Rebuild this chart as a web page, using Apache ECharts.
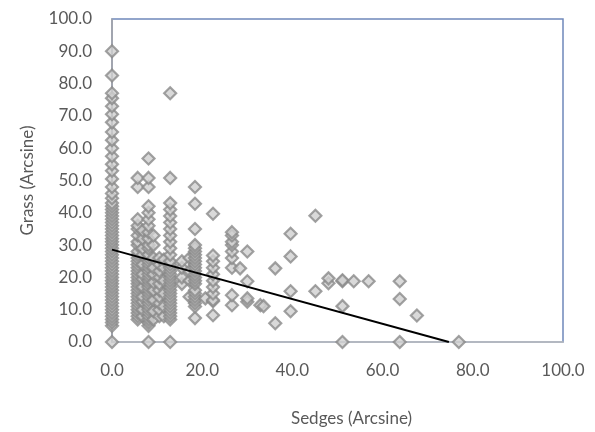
<!DOCTYPE html>
<html>
<head>
<meta charset="utf-8">
<script src="https://cdn.jsdelivr.net/npm/echarts@6/dist/echarts.min.js"></script>
<style>
  html, body { margin: 0; padding: 0; background: #fff; }
  #main { width: 595px; height: 432px; }
</style>
</head>
<body>
<div id="main"></div>
<script>
// Sedges (Arcsine) value of each column of points
var sedgeCols = [0, 5.7, 6.8, 8.1, 9.2, 10.5, 11.5, 12.9, 15.5, 17.2, 18.4, 20.7, 22.4, 26.6, 28.4, 30, 32.9, 33.6, 36.2, 39.6, 45.1, 48, 51.1, 53.6, 56.9, 63.8, 67.6, 76.9];
// Grass (Arcsine) values in each column
var grassCols = [
  [0, 5, 6, 7, 8, 9, 10, 11, 12, 13, 14, 15, 16, 17, 18, 19, 20, 21, 22, 23, 24, 25, 26, 27, 28, 29, 30, 31, 32, 33, 34, 35, 36, 37, 38, 39, 40, 41, 42, 43, 44.5, 46, 48, 50.5, 53, 55, 57.5, 60, 62.5, 65, 68, 70.5, 73, 75.5, 77, 82.5, 90],
  [7, 8, 9, 10, 11, 12, 13, 14, 15, 16, 17, 18, 19, 20, 21, 22, 23, 24, 25, 26, 27, 28, 30, 31, 33, 35, 36, 38, 48, 50.8],
  [8, 10, 12.5, 14, 17, 19.5, 21, 24, 27, 29, 32, 34.5],
  [0, 5, 6, 7, 8, 9, 10, 11, 12, 13, 14, 15, 16, 17, 18, 19, 20, 21, 22, 23, 24, 25, 26, 27, 29, 30, 32, 34, 36, 38, 40, 42, 48, 50.8, 56.8],
  [7, 9.5, 13, 16, 18.5, 21, 23, 26, 30, 33],
  [8, 10, 12, 14, 16, 18, 20, 22, 24, 26],
  [8, 11, 15, 19, 23, 25.5],
  [0, 7, 8, 9, 10, 11, 12, 13, 14, 15, 16, 17, 18, 19, 20, 21, 22, 23, 24, 25, 27, 29, 31, 33, 35, 37, 39, 41, 43, 50.8, 77],
  [18, 20, 23, 25],
  [14, 19, 22, 26],
  [7.4, 11, 12, 13, 14, 15, 16, 18, 19, 20, 21, 22, 23, 24, 25, 26, 27, 28, 29, 30, 35, 42.8, 48],
  [13.5],
  [8.3, 12.6, 13, 15, 17, 19, 21, 23, 25, 26.8, 39.7],
  [11.4, 14.5, 23, 26, 28, 30, 31, 33, 34],
  [22.8],
  [12.5, 13.5, 18.8, 28],
  [11.4],
  [11.1],
  [5.8, 22.8],
  [9.5, 15.7, 26.5, 33.5],
  [15.7, 39.1],
  [18.2, 19.7],
  [0, 11.1, 18.8, 19.1],
  [18.8],
  [18.8],
  [0, 13.3, 18.8],
  [8.2],
  [0]
];
// linear trend line end points
var trendX = [0, 74.7];
var trendY = [28.6, 0];

var points = [];
for (var i = 0; i < sedgeCols.length; i++) {
  for (var j = 0; j < grassCols[i].length; j++) {
    points.push([sedgeCols[i], grassCols[i][j]]);
  }
}

var myChart = echarts.init(document.getElementById('main'));

var labelStyle = { color: '#595959', fontSize: 17, fontFamily: 'Lato' };

var option = {
  animation: false,
  backgroundColor: '#fff',
  grid: {
    left: 112, right: 32, top: 19, bottom: 88,
    show: true,
    borderColor: '#6f88bb',
    borderWidth: 1.5
  },
  xAxis: {
    type: 'value',
    min: 0, max: 100, interval: 20,
    name: 'Sedges (Arcsine)',
    nameLocation: 'middle',
    nameGap: 68,
    nameTextStyle: { color: '#595959', fontSize: 17, fontFamily: 'Lato', padding: [0, 0, 0, 28] },
    axisLine: { show: true, lineStyle: { color: '#bfbfbf', width: 1.5 } },
    axisTick: { show: false },
    splitLine: { show: false },
    axisLabel: Object.assign({ margin: 20, formatter: function (v) { return v.toFixed(1); } }, labelStyle)
  },
  yAxis: {
    type: 'value',
    min: 0, max: 100, interval: 10,
    name: 'Grass (Arcsine)',
    nameLocation: 'middle',
    nameGap: 76,
    nameTextStyle: { color: '#595959', fontSize: 17, fontFamily: 'Lato' },
    axisLine: { show: true, lineStyle: { color: '#a6a6a6', width: 1.5 } },
    axisTick: { show: false },
    splitLine: { show: false },
    axisLabel: Object.assign({ margin: 20, formatter: function (v) { return v.toFixed(1); } }, labelStyle)
  },
  series: [
    {
      type: 'scatter',
      symbol: 'diamond',
      symbolSize: 12,
      data: points,
      itemStyle: { color: '#cfcfcf', borderColor: '#8a8a8a', borderWidth: 2.2 }
    },
    {
      type: 'line',
      data: [[trendX[0], trendY[0]], [trendX[1], trendY[1]]],
      symbol: 'none',
      lineStyle: { color: '#000', width: 2 },
      z: 3
    }
  ]
};

myChart.setOption(option);
</script>
</body>
</html>
